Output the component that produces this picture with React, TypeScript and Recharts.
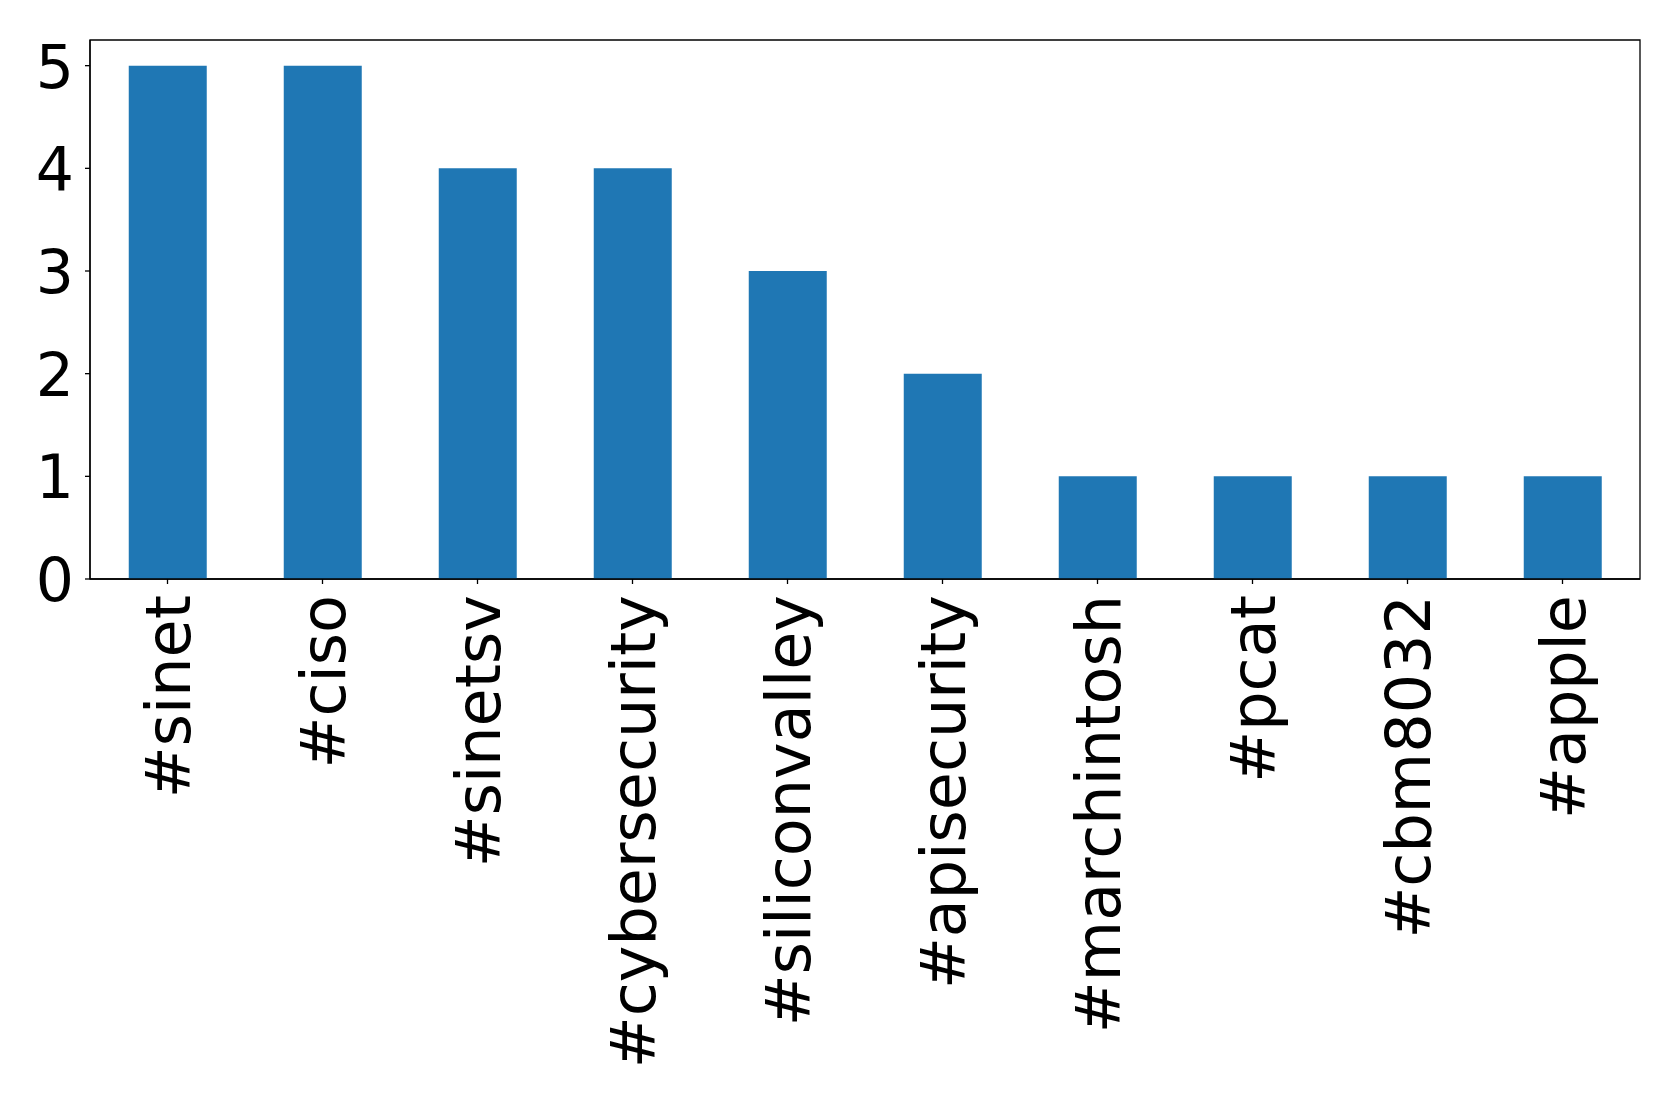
import { Bar, BarChart, ReferenceArea, XAxis, YAxis } from 'recharts';

const hashtags = [
  '#sinet',
  '#ciso',
  '#sinetsv',
  '#cybersecurity',
  '#siliconvalley',
  '#apisecurity',
  '#marchintosh',
  '#pcat',
  '#cbm8032',
  '#apple',
];
const counts = [5, 5, 4, 4, 3, 2, 1, 1, 1, 1];
const yTicks = [0, 1, 2, 3, 4, 5];
const yMax = 5.25;

const data = hashtags.map((tag, i) => ({ tag, count: counts[i] }));

const FONT = '"DejaVu Sans", sans-serif';

function HashtagTick({ x, y, payload }: any) {
  return (
    <g transform={`translate(${x},${y})`}>
      <text
        transform="rotate(-90)"
        textAnchor="end"
        dy={22}
        fontSize={62}
        fontFamily={FONT}
        fill="#000"
      >
        {payload.value}
      </text>
    </g>
  );
}

function CountTick({ x, y, payload }: any) {
  return (
    <text x={x} y={y} dy={22} textAnchor="end" fontSize={60} fontFamily={FONT} fill="#000">
      {payload.value}
    </text>
  );
}

export default function App() {
  return (
    <div style={{ position: 'absolute', left: 0, top: 0, background: '#fff' }}>
      <BarChart
        width={1679}
        height={1106}
        data={data}
        margin={{ top: 40, right: 39, left: 0, bottom: 0 }}
        barCategoryGap="25%"
      >
        <XAxis
          dataKey="tag"
          interval={0}
          height={527}
          tickSize={5}
          tickMargin={11}
          tick={<HashtagTick />}
          axisLine={{ stroke: '#000', strokeWidth: 1.3 }}
          tickLine={{ stroke: '#000', strokeWidth: 1.3 }}
        />
        <YAxis
          width={90}
          type="number"
          domain={[0, yMax]}
          ticks={yTicks}
          allowDataOverflow
          tickSize={5}
          tickMargin={11}
          tick={<CountTick />}
          axisLine={{ stroke: '#000', strokeWidth: 1.3 }}
          tickLine={{ stroke: '#000', strokeWidth: 1.3 }}
        />
        <Bar dataKey="count" fill="#1f77b4" isAnimationActive={false} />
        {/* frame around the plot area (top and right spines) */}
        <ReferenceArea
          y1={0}
          y2={yMax}
          fill="none"
          fillOpacity={0}
          stroke="#000"
          strokeWidth={1.3}
          ifOverflow="visible"
        />
      </BarChart>
    </div>
  );
}
